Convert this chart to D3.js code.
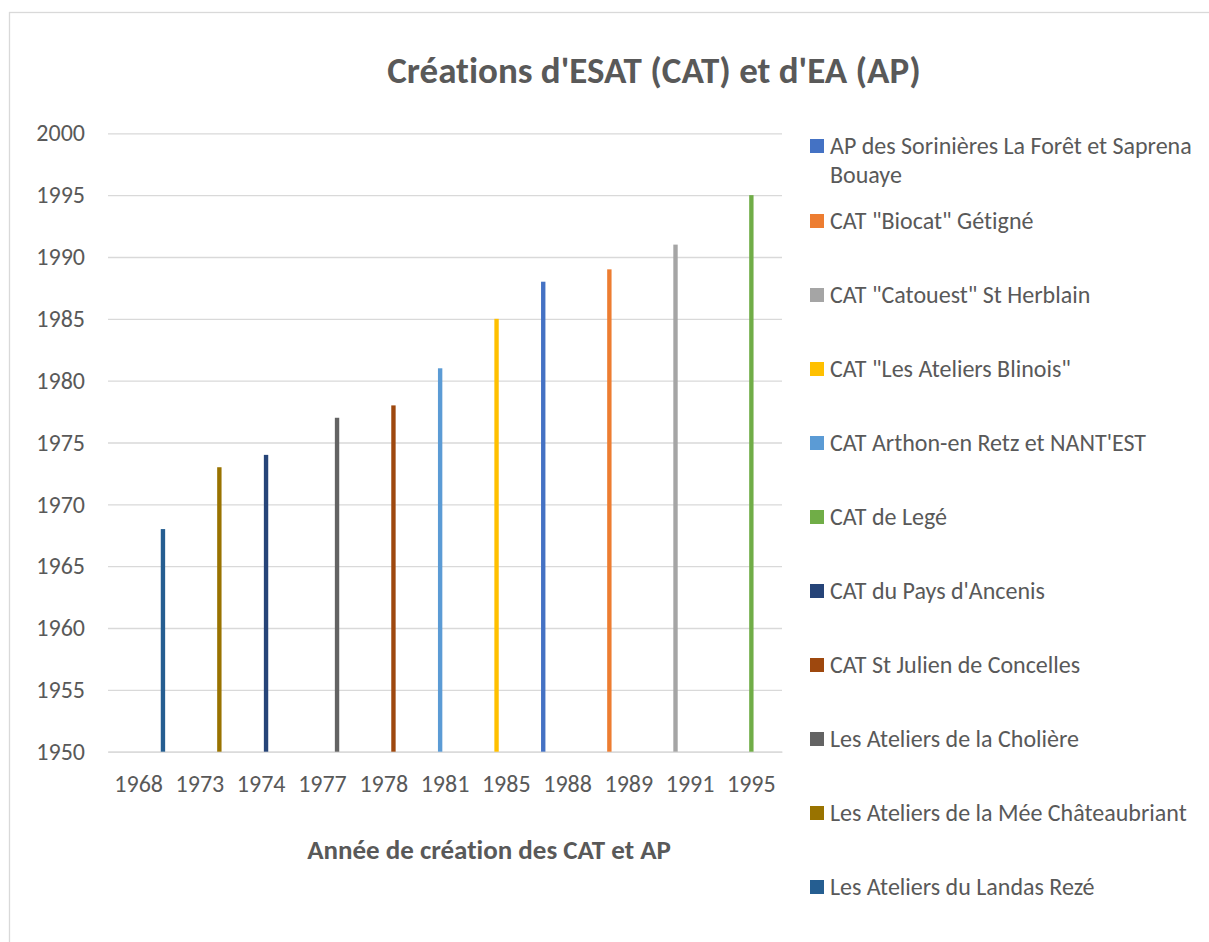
<!DOCTYPE html>
<html>
<head>
<meta charset="utf-8">
<script src="https://cdn.jsdelivr.net/npm/d3@7"></script>
<style>
  html, body { margin: 0; padding: 0; background: #fff; }
  svg { display: block; }
  text { font-family: Carlito, Calibri, "Open Sans", sans-serif; fill: #595959; font-variant-ligatures: none; font-feature-settings: "liga" 0, "dlig" 0; }
</style>
</head>
<body>
<svg id="chart" width="1209" height="942"></svg>
<script>
// ---- Data ----
const categories = ["1968", "1973", "1974", "1977", "1978", "1981", "1985", "1988", "1989", "1991", "1995"];
const seriesNames = [
  "AP des Sorinières La Forêt et Saprena Bouaye",
  "CAT \"Biocat\" Gétigné",
  "CAT \"Catouest\" St Herblain",
  "CAT \"Les Ateliers Blinois\"",
  "CAT Arthon-en Retz et NANT'EST",
  "CAT de Legé",
  "CAT du Pays d'Ancenis",
  "CAT St Julien de Concelles",
  "Les Ateliers de la Cholière",
  "Les Ateliers de la Mée Châteaubriant",
  "Les Ateliers du Landas Rezé"
];
const seriesCategory = ["1988", "1989", "1991", "1985", "1981", "1995", "1974", "1978", "1977", "1973", "1968"];
const seriesValues = [1988, 1989, 1991, 1985, 1981, 1995, 1974, 1978, 1977, 1973, 1968];
const seriesColors = ["#4472C4", "#ED7D31", "#A5A5A5", "#FFC000", "#5B9BD5", "#70AD47", "#264478", "#9E480E", "#636363", "#997300", "#255E91"];
const yTicks = [1950, 1955, 1960, 1965, 1970, 1975, 1980, 1985, 1990, 1995, 2000];
const titleText = "Créations d'ESAT (CAT) et d'EA (AP)";
const xAxisTitle = "Année de création des CAT et AP";

// ---- Layout ----
const svg = d3.select("#chart");
const plot = { left: 108, right: 782, top: 133.3, bottom: 751.7 };

// chart border
svg.append("rect")
  .attr("x", 9.5).attr("y", 12.5)
  .attr("width", 1240).attr("height", 960)
  .attr("fill", "#fff").attr("stroke", "#d9d9d9").attr("stroke-width", 1.3);

const x0 = d3.scaleBand()
  .domain(categories)
  .range([plot.left, plot.right])
  .paddingInner(0.119)
  .paddingOuter(0.0595);

const x1 = d3.scaleBand()
  .domain(seriesNames)
  .range([0, x0.bandwidth()])
  .padding(0.1);

const y = d3.scaleLinear()
  .domain([1950, 2000])
  .range([plot.bottom, plot.top]);

// gridlines + y labels
const yAxis = d3.axisLeft(y).tickValues(yTicks).tickFormat(d3.format("d"))
  .tickSize(-(plot.right - plot.left)).tickPadding(23);
const gy = svg.append("g")
  .attr("transform", `translate(${plot.left},0)`)
  .call(yAxis);
gy.select(".domain").remove();
gy.selectAll(".tick line").attr("stroke", "#d9d9d9").attr("stroke-width", 1.3);
gy.selectAll(".tick text").style("font-size", "24px").attr("fill", "#595959");

// x axis
const xAxis = d3.axisBottom(x0).tickSize(0).tickPadding(23);
const gx = svg.append("g")
  .attr("transform", `translate(0,${plot.bottom})`)
  .call(xAxis);
gx.select(".domain").attr("stroke", "#d9d9d9").attr("stroke-width", 1.3);
gx.selectAll(".tick text").style("font-size", "24px").attr("fill", "#595959");

// bars
const barData = seriesNames.map((name, i) => ({
  name, cat: seriesCategory[i], value: seriesValues[i], color: seriesColors[i]
}));
svg.append("g").selectAll("rect")
  .data(barData)
  .join("rect")
  .attr("x", d => x0(d.cat) + x1(d.name))
  .attr("width", x1.bandwidth())
  .attr("y", d => y(d.value))
  .attr("height", d => y(1950) - y(d.value))
  .attr("fill", d => d.color);

// title
svg.append("text")
  .attr("x", 654).attr("y", 83)
  .attr("text-anchor", "middle")
  .style("font-size", "37px").style("font-weight", "bold")
  .text(titleText);

// x axis title
svg.append("text")
  .attr("x", 489).attr("y", 859)
  .attr("text-anchor", "middle")
  .style("font-size", "27px").style("font-weight", "bold")
  .text(xAxisTitle);

// legend
const legendY = [146, 221, 295, 369, 443, 517, 591, 665, 739, 813, 887];
const lg = svg.append("g");
seriesNames.forEach((name, i) => {
  const g = lg.append("g").attr("transform", `translate(810,${legendY[i]})`);
  g.append("rect").attr("x", 0).attr("y", -7).attr("width", 14).attr("height", 14).attr("fill", seriesColors[i]);
  const t = g.append("text").attr("x", 20).attr("y", 8).style("font-size", "24px");
  if (i === 0) {
    t.append("tspan").attr("x", 20).text("AP des Sorinières La Forêt et Saprena");
    t.append("tspan").attr("x", 20).attr("dy", 29).text("Bouaye");
  } else {
    t.text(name);
  }
});
</script>
</body>
</html>
